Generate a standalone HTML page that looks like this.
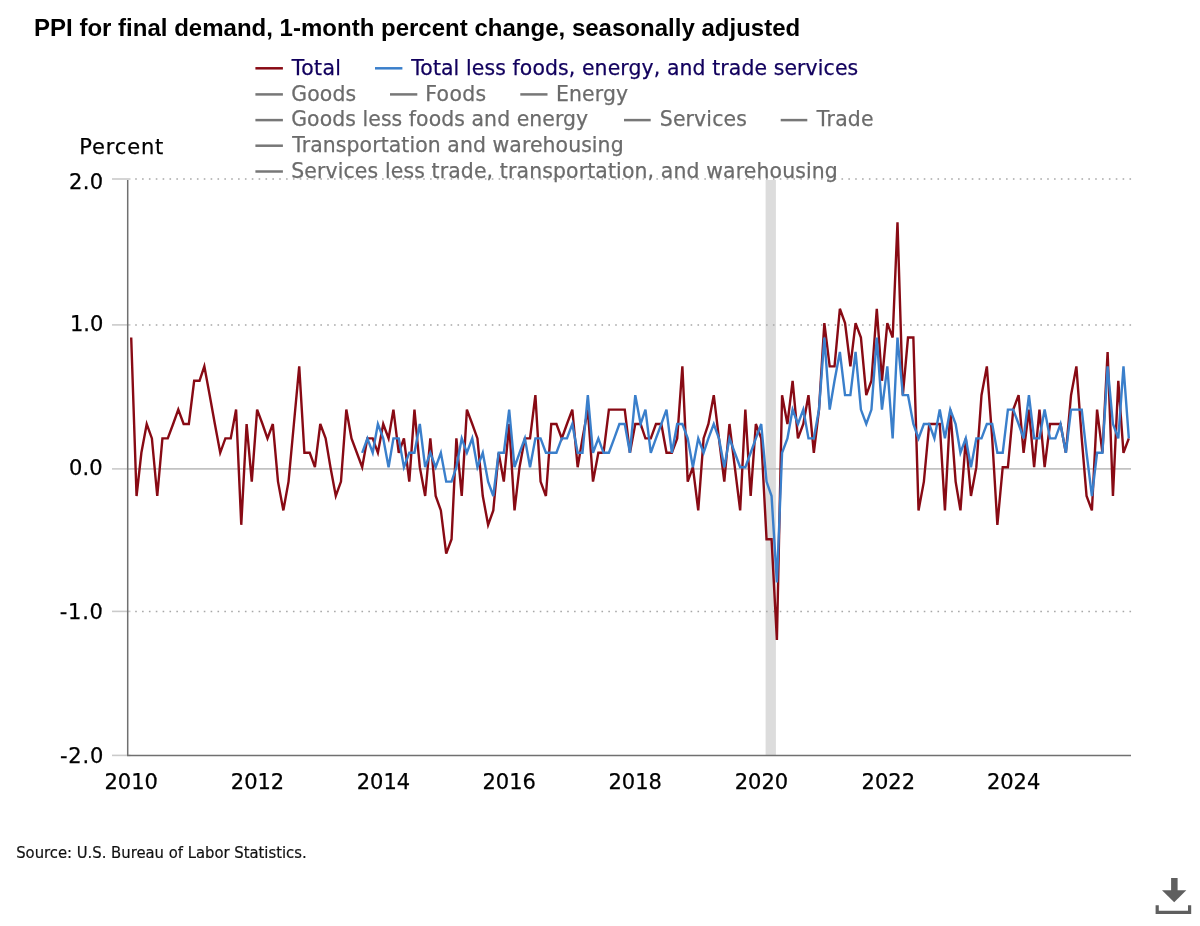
<!DOCTYPE html>
<html><head><meta charset="utf-8"><title>PPI for final demand</title>
<style>
html,body{margin:0;padding:0;background:#fff;width:1200px;height:926px;overflow:hidden}
svg{display:block;will-change:transform}
.ax{font-family:"DejaVu Sans",Verdana,sans-serif;font-size:21px}
.lg{font-family:"DejaVu Sans",Verdana,sans-serif;font-size:20.4px}
.ti{font-family:"Liberation Sans",Arial,Helvetica,sans-serif;font-weight:bold;font-size:24px}
.src{font-family:"DejaVu Sans",Verdana,sans-serif;font-size:15.6px}
</style></head><body>
<svg width="1200" height="926" viewBox="0 0 1200 926">
<rect x="765.6" y="180" width="10.3" height="575.4" fill="#dcdcdc"/>
<line x1="135.2" x2="1131.5" y1="179.0" y2="179.0" stroke="#a8a8a8" stroke-width="1.5" stroke-dasharray="1.6 5.257"/>
<line x1="112" x2="130.5" y1="179.0" y2="179.0" stroke="#cacaca" stroke-width="1.6"/>
<line x1="135.2" x2="1131.5" y1="324.9" y2="324.9" stroke="#a8a8a8" stroke-width="1.5" stroke-dasharray="1.6 5.257"/>
<line x1="112" x2="130.5" y1="324.9" y2="324.9" stroke="#cacaca" stroke-width="1.6"/>
<line x1="128" x2="1131" y1="468.9" y2="468.9" stroke="#c2c2c2" stroke-width="1.7"/>
<line x1="112" x2="130.5" y1="468.9" y2="468.9" stroke="#cacaca" stroke-width="1.6"/>
<line x1="135.2" x2="1131.5" y1="611.4" y2="611.4" stroke="#a8a8a8" stroke-width="1.5" stroke-dasharray="1.6 5.257"/>
<line x1="112" x2="130.5" y1="611.4" y2="611.4" stroke="#cacaca" stroke-width="1.6"/>
<line x1="112" x2="130.5" y1="755.4" y2="755.4" stroke="#cacaca" stroke-width="1.6"/>
<line x1="127.7" x2="127.7" y1="180" y2="755.4" stroke="#707070" stroke-width="1.5"/>
<line x1="127" x2="1131" y1="755.4" y2="755.4" stroke="#707070" stroke-width="1.5"/>
<polyline points="131.20,337.55 136.55,496.01 141.38,452.79 146.73,423.99 151.90,438.39 157.25,496.01 162.42,438.39 167.77,438.39 173.12,423.99 178.30,409.58 183.64,423.99 188.82,423.99 194.17,380.77 199.51,380.77 204.34,366.37 209.69,395.17 214.87,423.99 220.22,452.79 225.39,438.39 230.74,438.39 236.09,409.58 241.26,524.82 246.61,423.99 251.78,481.61 257.13,409.58 262.48,423.99 267.48,438.39 272.83,423.99 278.01,481.61 283.35,510.41 288.53,481.61 293.88,423.99 299.22,366.37 304.40,452.79 309.75,452.79 314.92,467.20 320.27,423.99 325.62,438.39 330.45,467.20 335.80,496.01 340.97,481.61 346.32,409.58 351.50,438.39 356.84,452.79 362.19,467.20 367.37,438.39 372.71,438.39 377.89,452.79 383.24,423.99 388.58,438.39 393.42,409.58 398.76,452.79 403.94,438.39 409.29,481.61 414.46,409.58 419.81,467.20 425.16,496.01 430.33,438.39 435.68,496.01 440.86,510.41 446.20,553.63 451.55,539.23 456.38,438.39 461.73,496.01 466.90,409.58 472.25,423.99 477.43,438.39 482.78,496.01 488.12,524.82 493.30,510.41 498.65,452.79 503.82,481.61 509.17,423.99 514.52,510.41 519.52,467.20 524.87,438.39 530.04,438.39 535.39,395.17 540.57,481.61 545.91,496.01 551.26,423.99 556.44,423.99 561.78,438.39 566.96,423.99 572.31,409.58 577.66,467.20 582.49,438.39 587.83,409.58 593.01,481.61 598.36,452.79 603.53,452.79 608.88,409.58 614.23,409.58 619.40,409.58 624.75,409.58 629.93,452.79 635.27,423.99 640.62,423.99 645.45,438.39 650.80,438.39 655.98,423.99 661.32,423.99 666.50,452.79 671.85,452.79 677.19,438.39 682.37,366.37 687.72,481.61 692.89,467.20 698.24,510.41 703.59,438.39 708.42,423.99 713.77,395.17 718.94,438.39 724.29,481.61 729.46,423.99 734.81,467.20 740.16,510.41 745.34,409.58 750.68,496.01 755.86,423.99 761.21,438.39 766.55,539.23 771.56,539.23 776.90,640.06 782.08,395.17 787.43,423.99 792.60,380.77 797.95,438.39 803.30,423.99 808.47,395.17 813.82,452.79 819.00,409.58 824.35,323.15 829.69,366.37 834.52,366.37 839.87,308.75 845.05,323.15 850.39,366.37 855.57,323.15 860.92,337.55 866.27,395.17 871.44,380.77 876.79,308.75 881.96,380.77 887.31,323.15 892.66,337.55 897.49,222.31 902.84,395.17 908.01,337.55 913.36,337.55 918.54,510.41 923.88,481.61 929.23,423.99 934.41,423.99 939.75,423.99 944.93,510.41 950.28,409.58 955.63,481.61 960.46,510.41 965.80,438.39 970.98,496.01 976.33,467.20 981.50,395.17 986.85,366.37 992.20,438.39 997.37,524.82 1002.72,467.20 1007.90,467.20 1013.24,409.58 1018.59,395.17 1023.59,452.79 1028.94,409.58 1034.12,467.20 1039.47,409.58 1044.64,467.20 1049.99,423.99 1055.34,423.99 1060.51,423.99 1065.86,452.79 1071.03,395.17 1076.38,366.37 1081.73,438.39 1086.56,496.01 1091.91,510.41 1097.08,409.58 1102.43,452.79 1107.61,351.96 1112.95,496.01 1118.30,380.77 1123.48,452.79 1128.83,438.39" fill="none" stroke="#880a14" stroke-width="2.4" stroke-linejoin="miter" stroke-miterlimit="4"/>
<polyline points="362.19,452.79 367.37,438.39 372.71,452.79 377.89,423.99 383.24,438.39 388.58,467.20 393.42,438.39 398.76,438.39 403.94,467.20 409.29,452.79 414.46,452.79 419.81,423.99 425.16,467.20 430.33,452.79 435.68,467.20 440.86,452.79 446.20,481.61 451.55,481.61 456.38,467.20 461.73,438.39 466.90,452.79 472.25,438.39 477.43,467.20 482.78,452.79 488.12,481.61 493.30,496.01 498.65,452.79 503.82,452.79 509.17,409.58 514.52,467.20 519.52,452.79 524.87,438.39 530.04,467.20 535.39,438.39 540.57,438.39 545.91,452.79 551.26,452.79 556.44,452.79 561.78,438.39 566.96,438.39 572.31,423.99 577.66,452.79 582.49,452.79 587.83,395.17 593.01,452.79 598.36,438.39 603.53,452.79 608.88,452.79 614.23,438.39 619.40,423.99 624.75,423.99 629.93,452.79 635.27,395.17 640.62,423.99 645.45,409.58 650.80,452.79 655.98,438.39 661.32,423.99 666.50,409.58 671.85,452.79 677.19,423.99 682.37,423.99 687.72,438.39 692.89,467.20 698.24,438.39 703.59,452.79 708.42,438.39 713.77,423.99 718.94,438.39 724.29,467.20 729.46,438.39 734.81,452.79 740.16,467.20 745.34,467.20 750.68,452.79 755.86,438.39 761.21,423.99 766.55,481.61 771.56,496.01 776.90,582.44 782.08,452.79 787.43,438.39 792.60,409.58 797.95,423.99 803.30,409.58 808.47,438.39 813.82,438.39 819.00,409.58 824.35,337.55 829.69,409.58 834.52,380.77 839.87,351.96 845.05,395.17 850.39,395.17 855.57,351.96 860.92,409.58 866.27,423.99 871.44,409.58 876.79,337.55 881.96,409.58 887.31,366.37 892.66,438.39 897.49,337.55 902.84,395.17 908.01,395.17 913.36,423.99 918.54,438.39 923.88,423.99 929.23,423.99 934.41,438.39 939.75,409.58 944.93,438.39 950.28,409.58 955.63,423.99 960.46,452.79 965.80,438.39 970.98,467.20 976.33,438.39 981.50,438.39 986.85,423.99 992.20,423.99 997.37,452.79 1002.72,452.79 1007.90,409.58 1013.24,409.58 1018.59,423.99 1023.59,438.39 1028.94,395.17 1034.12,438.39 1039.47,438.39 1044.64,409.58 1049.99,438.39 1055.34,438.39 1060.51,423.99 1065.86,452.79 1071.03,409.58 1076.38,409.58 1081.73,409.58 1086.56,452.79 1091.91,496.01 1097.08,452.79 1102.43,452.79 1107.61,366.37 1112.95,423.99 1118.30,438.39 1123.48,366.37 1128.83,438.39" fill="none" stroke="#3a7fcb" stroke-width="2.4" stroke-linejoin="miter" stroke-miterlimit="4"/>
<line x1="255.4" x2="282.9" y1="68.3" y2="68.3" stroke="#880a14" stroke-width="2.5"/>
<line x1="375.0" x2="402.4" y1="68.3" y2="68.3" stroke="#3a7fcb" stroke-width="2.5"/>
<line x1="255.4" x2="282.9" y1="94.4" y2="94.4" stroke="#777777" stroke-width="2.5"/>
<line x1="390.0" x2="417.3" y1="94.4" y2="94.4" stroke="#777777" stroke-width="2.5"/>
<line x1="520.3" x2="547.5" y1="94.4" y2="94.4" stroke="#777777" stroke-width="2.5"/>
<line x1="255.4" x2="282.9" y1="120.1" y2="120.1" stroke="#777777" stroke-width="2.5"/>
<line x1="624.0" x2="650.7" y1="120.1" y2="120.1" stroke="#777777" stroke-width="2.5"/>
<line x1="780.7" x2="807.3" y1="120.1" y2="120.1" stroke="#777777" stroke-width="2.5"/>
<line x1="255.4" x2="282.9" y1="145.7" y2="145.7" stroke="#777777" stroke-width="2.5"/>
<line x1="255.4" x2="282.9" y1="171.5" y2="171.5" stroke="#777777" stroke-width="2.5"/>
<text x="34.00" y="35.50" class="ti" fill="#000" textLength="766.20" lengthAdjust="spacing">PPI for final demand, 1-month percent change, seasonally adjusted</text>
<text x="291.80" y="75.40" class="lg" fill="#12005e" stroke="#12005e" stroke-width="0.25" textLength="49.15" lengthAdjust="spacing">Total</text>
<text x="411.20" y="75.40" class="lg" fill="#12005e" stroke="#12005e" stroke-width="0.25" textLength="447.00" lengthAdjust="spacing">Total less foods, energy, and trade services</text>
<text x="291.20" y="100.80" class="lg" fill="#6b6b6b" stroke="#6b6b6b" stroke-width="0.25" textLength="65.00" lengthAdjust="spacing">Goods</text>
<text x="425.20" y="100.80" class="lg" fill="#6b6b6b" stroke="#6b6b6b" stroke-width="0.25" textLength="61.00" lengthAdjust="spacing">Foods</text>
<text x="556.00" y="100.80" class="lg" fill="#6b6b6b" stroke="#6b6b6b" stroke-width="0.25" textLength="72.10" lengthAdjust="spacing">Energy</text>
<text x="291.20" y="126.40" class="lg" fill="#6b6b6b" stroke="#6b6b6b" stroke-width="0.25" textLength="297.00" lengthAdjust="spacing">Goods less foods and energy</text>
<text x="659.80" y="126.40" class="lg" fill="#6b6b6b" stroke="#6b6b6b" stroke-width="0.25" textLength="87.00" lengthAdjust="spacing">Services</text>
<text x="816.80" y="126.40" class="lg" fill="#6b6b6b" stroke="#6b6b6b" stroke-width="0.25" textLength="56.80" lengthAdjust="spacing">Trade</text>
<text x="292.20" y="152.10" class="lg" fill="#6b6b6b" stroke="#6b6b6b" stroke-width="0.25" textLength="331.40" lengthAdjust="spacing">Transportation and warehousing</text>
<text x="291.20" y="177.60" class="lg" fill="#6b6b6b" stroke="#6b6b6b" stroke-width="0.25" textLength="546.60" lengthAdjust="spacing">Services less trade, transportation, and warehousing</text>
<text x="79.20" y="154.20" class="ax" fill="#000" stroke="#000" stroke-width="0.25" textLength="84.10" lengthAdjust="spacing">Percent</text>
<text x="69.00" y="188.50" class="ax" fill="#000" stroke="#000" stroke-width="0.25" textLength="34.00" lengthAdjust="spacing">2.0</text>
<text x="70.00" y="330.75" class="ax" fill="#000" stroke="#000" stroke-width="0.25" textLength="33.25" lengthAdjust="spacing">1.0</text>
<text x="69.00" y="475.00" class="ax" fill="#000" stroke="#000" stroke-width="0.25" textLength="33.50" lengthAdjust="spacing">0.0</text>
<text x="59.80" y="619.00" class="ax" fill="#000" stroke="#000" stroke-width="0.25" textLength="43.15" lengthAdjust="spacing">-1.0</text>
<text x="60.00" y="763.00" class="ax" fill="#000" stroke="#000" stroke-width="0.25" textLength="43.25" lengthAdjust="spacing">-2.0</text>
<text x="104.50" y="788.75" class="ax" fill="#000" stroke="#000" stroke-width="0.25">2010</text>
<text x="230.78" y="788.75" class="ax" fill="#000" stroke="#000" stroke-width="0.25">2012</text>
<text x="356.71" y="788.75" class="ax" fill="#000" stroke="#000" stroke-width="0.25">2014</text>
<text x="482.49" y="788.75" class="ax" fill="#000" stroke="#000" stroke-width="0.25">2016</text>
<text x="608.41" y="788.75" class="ax" fill="#000" stroke="#000" stroke-width="0.25">2018</text>
<text x="734.69" y="788.75" class="ax" fill="#000" stroke="#000" stroke-width="0.25">2020</text>
<text x="861.62" y="788.75" class="ax" fill="#000" stroke="#000" stroke-width="0.25">2022</text>
<text x="986.90" y="788.75" class="ax" fill="#000" stroke="#000" stroke-width="0.25">2024</text>
<text x="16.20" y="857.50" class="src" fill="#111" stroke="#111" stroke-width="0.2" textLength="290.50" lengthAdjust="spacingAndGlyphs">Source: U.S. Bureau of Labor Statistics.</text>
<g fill="#5f5f5f"><rect x="1171.1" y="878" width="6.5" height="13"/><polygon points="1162,890.3 1186.3,890.3 1174.2,902.2"/><path d="M1155.6 905.2 h3.2 v5.6 h29.2 v-5.6 h3.2 v8.8 h-35.6 z"/></g>
</svg>
</body></html>
